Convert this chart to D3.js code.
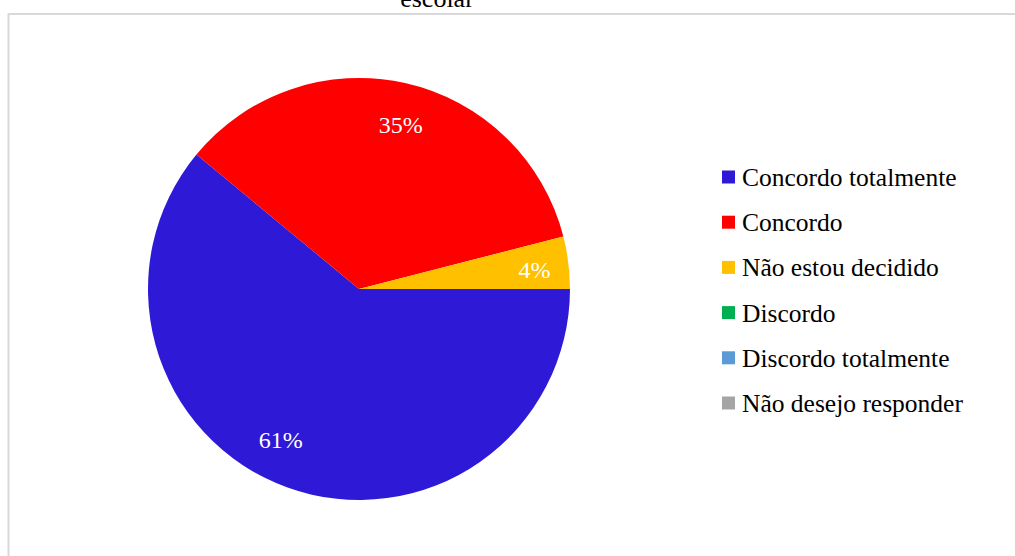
<!DOCTYPE html>
<html>
<head>
<meta charset="utf-8">
<script src="https://cdn.jsdelivr.net/npm/d3@7"></script>
<style>
  html, body { margin: 0; padding: 0; background: #fff; }
  svg { display: block; }
  svg text { font-family: "Liberation Serif", "Times New Roman", Times, serif; }
</style>
</head>
<body>
<svg id="chart" width="1015" height="556"></svg>
<script>
// Survey answers (percent of respondents)
const categories = ["Concordo totalmente", "Concordo", "Não estou decidido", "Discordo", "Discordo totalmente", "Não desejo responder"];
const values = [61, 35, 4, 0, 0, 0];
const sliceLabels = ["61%", "35%", "4%", "", "", ""];
const colors = ["#2E1AD6", "#FF0000", "#FFC000", "#00B050", "#5B9BD5", "#A5A5A5"];
const titleText = "escolar";

const svg = d3.select("#chart");

// chart frame
svg.append("rect")
  .attr("x", 8.5).attr("y", 14)
  .attr("width", 1030).attr("height", 560)
  .attr("fill", "none")
  .attr("stroke", "#d9d9d9")
  .attr("stroke-width", 2);

// title (only its last line falls inside the frame)
svg.append("text")
  .attr("x", 437).attr("y", 7)
  .attr("text-anchor", "middle")
  .attr("font-size", 26)
  .attr("fill", "#000")
  .text(titleText);

const cx = 359, cy = 289, r = 211;
const data = categories.map((c, i) => ({ name: c, value: values[i], label: sliceLabels[i], color: colors[i] }));

const pie = d3.pie()
  .value(d => d.value)
  .sort(null)
  .startAngle(Math.PI / 2)
  .endAngle(Math.PI / 2 + 2 * Math.PI);

const arc = d3.arc().innerRadius(0).outerRadius(r);
const labelArc = d3.arc().innerRadius(r * 0.8).outerRadius(r * 0.8);
// small best-fit nudges for the value labels
const labelNudge = [[-21, -8], [5, 0], [8, 2]];

const g = svg.append("g").attr("transform", `translate(${cx},${cy})`);
const arcs = pie(data).filter(d => d.data.value > 0);

g.selectAll("path.slice")
  .data(arcs)
  .join("path")
  .attr("class", "slice")
  .attr("d", arc)
  .attr("fill", d => d.data.color);

g.selectAll("text.lbl")
  .data(arcs)
  .join("text")
  .attr("class", "lbl")
  .attr("transform", (d, i) => {
    const [x, y] = labelArc.centroid(d);
    const n = labelNudge[i] || [0, 0];
    return `translate(${x + n[0]},${y + n[1]})`;
  })
  .attr("text-anchor", "middle")
  .attr("dy", "0.35em")
  .attr("font-size", 24)
  .attr("fill", "#fff")
  .text(d => d.data.label);

// legend
const legend = svg.append("g").attr("transform", "translate(722,177)");
const rowH = 45.2;
const rows = legend.selectAll("g")
  .data(data)
  .join("g")
  .attr("transform", (d, i) => `translate(0,${i * rowH})`);

rows.append("rect")
  .attr("x", 0).attr("y", -6.5)
  .attr("width", 13).attr("height", 13)
  .attr("fill", d => d.color);

rows.append("text")
  .attr("x", 20).attr("y", 0)
  .attr("dy", "0.35em")
  .attr("font-size", 25.5)
  .attr("fill", "#000")
  .text(d => d.name);
</script>
</body>
</html>
